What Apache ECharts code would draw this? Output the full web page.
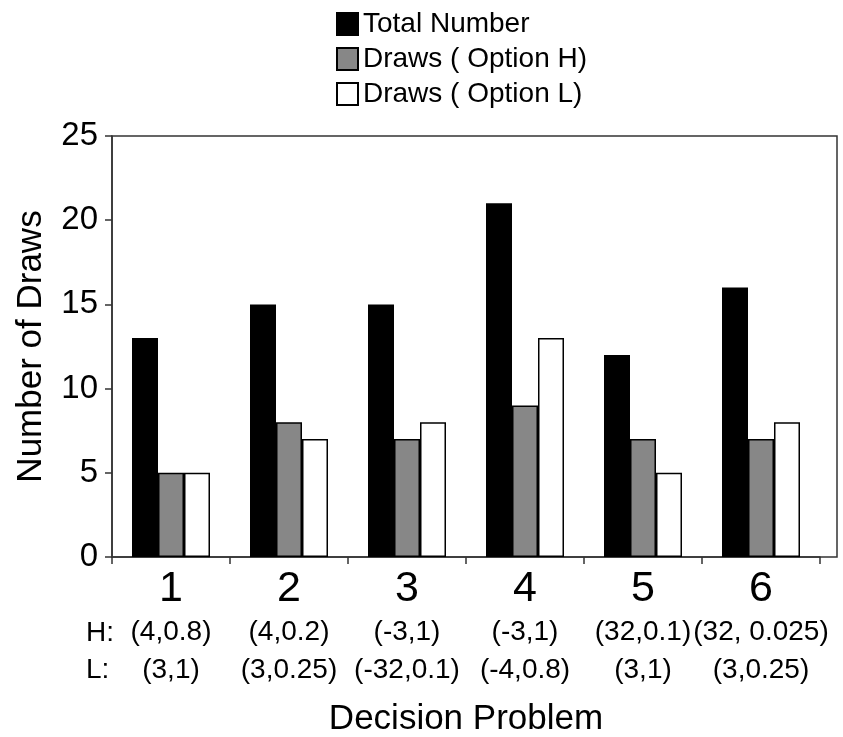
<!DOCTYPE html>
<html>
<head>
<meta charset="utf-8">
<script src="https://cdn.jsdelivr.net/npm/echarts@6.0.0/dist/echarts.min.js"></script>
<style>
html,body{margin:0;padding:0;background:#fff;}
#chart{width:843px;height:737px;}
</style>
</head>
<body>
<div id="chart"></div>
<script>
const categories = ['1', '2', '3', '4', '5', '6'];
const optionH = ['(4,0.8)', '(4,0.2)', '(-3,1)', '(-3,1)', '(32,0.1)', '(32, 0.025)'];
const optionL = ['(3,1)', '(3,0.25)', '(-32,0.1)', '(-4,0.8)', '(3,1)', '(3,0.25)'];
const rowPrefixes = ['H:', 'L:'];
const seriesNames = ['Total Number', 'Draws ( Option H)', 'Draws ( Option L)'];
const totalNumber = [13, 15, 15, 21, 12, 16];
const drawsH = [5, 8, 7, 9, 7, 7];
const drawsL = [5, 7, 8, 13, 5, 8];
const yTicks = [0, 5, 10, 15, 20, 25];

const FONT = '"Liberation Sans", Arial, Helvetica, sans-serif';
const chart = echarts.init(document.getElementById('chart'), null, {renderer: 'canvas'});

const option = {
  backgroundColor: '#fff',
  animation: false,
  textStyle: {fontFamily: FONT, color: '#000'},
  legend: {
    orient: 'vertical',
    left: 336,
    top: 10,
    padding: 0,
    itemWidth: 21,
    itemHeight: 22,
    itemGap: 7,
    data: seriesNames,
    icon: 'rect',
    textStyle: {fontFamily: FONT, fontSize: 28, color: '#000', lineHeight: 28}
  },
  grid: [
    {left: 112, right: 23, top: 136, bottom: 180, containLabel: false, outerBoundsMode: 'none'},
    {left: 112, right: 6, top: 136, bottom: 180, containLabel: false, outerBoundsMode: 'none',
     show: true, borderColor: '#333', borderWidth: 1.5, backgroundColor: 'transparent'}
  ],
  xAxis: [
    {
      type: 'category',
      gridIndex: 0,
      data: categories,
      axisLine: {show: true, lineStyle: {color: '#333', width: 1.5}},
      axisTick: {show: true, length: 7, inside: false, lineStyle: {color: '#333', width: 1.5}},
      axisLabel: {
        interval: 0,
        margin: 8,
        color: '#000',
        fontFamily: FONT,
        formatter: function (v, i) {
          return '{n|' + v + '}\n{p|' + optionH[i] + '}\n{p|' + optionL[i] + '}';
        },
        rich: {
          n: {fontSize: 43, lineHeight: 48, fontFamily: FONT, color: '#000', align: 'center'},
          p: {fontSize: 28, lineHeight: 38, fontFamily: FONT, color: '#000', align: 'center'}
        }
      },
      name: 'Decision Problem',
      nameLocation: 'middle',
      nameGap: 145,
      nameTextStyle: {fontSize: 35, fontFamily: FONT, color: '#000'},
      splitLine: {show: false}
    },
    {type: 'value', gridIndex: 1, show: false, min: 0, max: 1}
  ],
  yAxis: [
    {
      type: 'value',
      gridIndex: 0,
      min: 0,
      max: 25,
      interval: 5,
      axisLine: {show: true, lineStyle: {color: '#333', width: 1.5}},
      axisTick: {show: true, length: 7, inside: false, lineStyle: {color: '#333', width: 1.5}},
      axisLabel: {
        margin: 14,
        fontSize: 33,
        fontFamily: FONT,
        color: '#000',
        formatter: function (v) { return yTicks.indexOf(v) >= 0 ? String(v) : ''; }
      },
      splitLine: {show: false},
      name: 'Number of Draws',
      nameLocation: 'middle',
      nameRotate: 90,
      nameGap: 63,
      nameTextStyle: {fontSize: 35, fontFamily: FONT, color: '#000'}
    },
    {type: 'value', gridIndex: 1, show: false, min: 0, max: 1}
  ],
  series: [
    {
      name: seriesNames[0], type: 'bar', xAxisIndex: 0, yAxisIndex: 0,
      data: totalNumber, barWidth: 26, barGap: '0%',
      itemStyle: {color: '#000', borderColor: '#000', borderWidth: 1.5}
    },
    {
      name: seriesNames[1], type: 'bar', xAxisIndex: 0, yAxisIndex: 0,
      data: drawsH, barWidth: 26, barGap: '0%',
      itemStyle: {color: '#878787', borderColor: '#000', borderWidth: 1.5}
    },
    {
      name: seriesNames[2], type: 'bar', xAxisIndex: 0, yAxisIndex: 0,
      data: drawsL, barWidth: 26, barGap: '0%',
      itemStyle: {color: '#fff', borderColor: '#000', borderWidth: 1.5}
    }
  ],
  graphic: [
    {type: 'text', x: 86, y: 633, style: {text: rowPrefixes[0], fontSize: 28, fontFamily: FONT, fill: '#000', verticalAlign: 'middle', align: 'left'}},
    {type: 'text', x: 86, y: 670, style: {text: rowPrefixes[1], fontSize: 28, fontFamily: FONT, fill: '#000', verticalAlign: 'middle', align: 'left'}}
  ]
};
chart.setOption(option);
</script>
</body>
</html>
